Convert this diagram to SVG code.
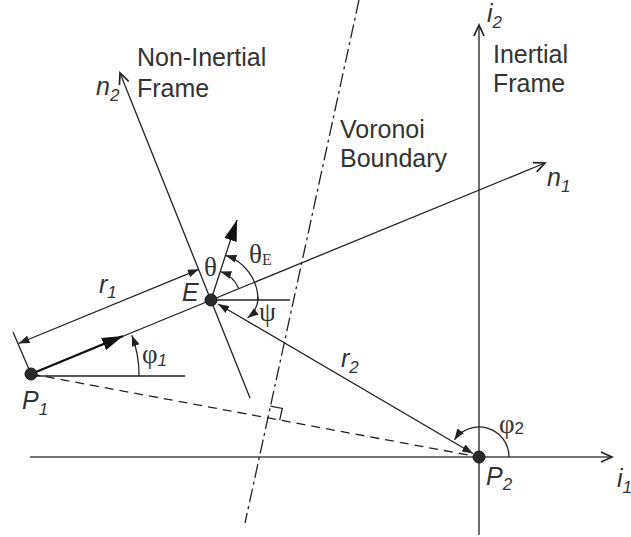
<svg xmlns="http://www.w3.org/2000/svg" width="631" height="537" viewBox="0 0 631 537">
<style>
.ln{stroke:#222;stroke-width:1.3;fill:none}
.ax{stroke:#444;stroke-width:1.4;fill:none}
.t{font-family:"Liberation Sans",Arial,sans-serif;font-size:25px;fill:#333}
.it{font-style:italic;font-size:25px}
.gk{font-family:"Liberation Serif","Times New Roman",serif;font-size:27px;fill:#333}
.sub{font-size:17px}
.pt{fill:#2a2a2a;stroke:#111;stroke-width:1}
</style>
<defs>
<marker id="open" markerUnits="userSpaceOnUse" markerWidth="14" markerHeight="12" refX="12" refY="6" orient="auto" viewBox="0 0 14 12"><path d="M1,1 L12,6 L1,11" fill="none" stroke="#222" stroke-width="1.7"/></marker>
<marker id="fill" markerUnits="userSpaceOnUse" markerWidth="11" markerHeight="8" refX="11" refY="4" orient="auto-start-reverse" viewBox="0 0 11 8"><path d="M0,0 L11,4 L0,8 Z" fill="#222"/></marker>
<marker id="big" markerUnits="userSpaceOnUse" markerWidth="21" markerHeight="13" refX="21" refY="6.5" orient="auto" viewBox="0 0 21 13"><path d="M0,0 L21,6.5 L0,13 Z" fill="#111"/></marker>
</defs>
<rect width="631" height="537" fill="#fff"/>
<g id="connectors">
<line id="axis-i1" class="ax" x1="30" y1="457" x2="612" y2="457" marker-end="url(#open)"/>
<line id="axis-i2" class="ln" x1="479" y1="535" x2="479" y2="25" marker-end="url(#open)"/>
<line id="voronoi" class="ln" x1="359" y1="0" x2="245" y2="523" stroke-dasharray="14,4,3,4"/>
<line id="p1p2" class="ln" x1="31" y1="374" x2="479" y2="457" stroke-dasharray="9,6"/>
<path id="right-angle" class="ln" d="M270.5,406.2 L282.3,408.4 L279.7,420.1"/>
<line id="axis-n1" class="ln" x1="31" y1="374" x2="545" y2="163" marker-end="url(#open)"/>
<line id="axis-n2" class="ln" x1="250" y1="398" x2="120" y2="73" marker-end="url(#open)"/>
<line id="tick-p1" class="ln" x1="31" y1="374" x2="13" y2="332"/>
<line id="dim-r1" class="ln" x1="18.5" y1="343.5" x2="198.8" y2="269.3" marker-start="url(#fill)" marker-end="url(#fill)"/>
<line id="dim-r2" class="ln" x1="218" y1="304" x2="473" y2="453.5" marker-start="url(#fill)" marker-end="url(#fill)"/>
<line id="velocity" x1="31" y1="374" x2="123" y2="336" stroke="#111" stroke-width="2.4" marker-end="url(#big)"/>
<line id="heading" class="ln" x1="211" y1="300" x2="237" y2="220" marker-end="url(#big)"/>
<line id="horiz-p1" class="ln" x1="31" y1="376" x2="185" y2="376"/>
<line id="horiz-e" class="ln" x1="211" y1="300" x2="290" y2="300"/>
<path id="arc-phi1" class="ln" d="M139,376 A108,108 0 0 0 131.8,335.3" marker-end="url(#fill)"/>
<path id="arc-theta" class="ln" d="M238.7,288.6 A30,30 0 0 0 220.3,271.5" marker-end="url(#fill)"/>
<path id="arc-thetaE" class="ln" d="M258,300 A47,47 0 0 0 225.5,255.3" marker-end="url(#fill)"/>
<path id="arc-psi" class="ln" d="M258,297 Q258,310 247.5,318" marker-end="url(#fill)"/>
<path id="arc-phi2" class="ln" d="M509,457 A30,30 0 0 0 454.4,439.8" marker-end="url(#fill)"/>
</g>
<g id="P1"><circle class="pt" cx="31" cy="374" r="6"/><text class="t it" x="22" y="409">P<tspan class="sub" dy="6">1</tspan></text></g>
<g id="E"><circle class="pt" cx="211" cy="300" r="6"/><text class="t it" x="182" y="301">E</text></g>
<g id="P2"><circle class="pt" cx="479" cy="457" r="6"/><text class="t it" x="486" y="485">P<tspan class="sub" dy="5">2</tspan></text></g>
<g id="labels">
<text class="t" x="137" y="66">Non-Inertial</text>
<text class="t" x="137" y="97">Frame</text>
<text class="t" x="493" y="63">Inertial</text>
<text class="t" x="493" y="92">Frame</text>
<text class="t" x="340" y="138">Voronoi</text>
<text class="t" x="340" y="167">Boundary</text>
<text class="t it" x="96" y="95">n<tspan class="sub" dy="6">2</tspan></text>
<text class="t it" x="547" y="186">n<tspan class="sub" dy="6">1</tspan></text>
<text class="t it" x="487" y="22">i<tspan class="sub" dy="6">2</tspan></text>
<text class="t it" x="617" y="487">i<tspan class="sub" dy="6">1</tspan></text>
<text class="t it" x="99" y="293">r<tspan class="sub" dy="5">1</tspan></text>
<text class="t it" x="341" y="367">r<tspan class="sub" dy="6">2</tspan></text>
<text class="gk" x="142" y="363">φ<tspan class="t it sub" dy="3">1</tspan></text>
<text class="gk" x="499" y="433">φ<tspan class="t sub" dy="1">2</tspan></text>
<text class="gk" x="204" y="276">θ</text>
<text class="gk" x="249" y="263">θ<tspan style="font-size:16px" dy="2">E</tspan></text>
<text class="gk" x="259" y="321">ψ</text>
</g>
</svg>
